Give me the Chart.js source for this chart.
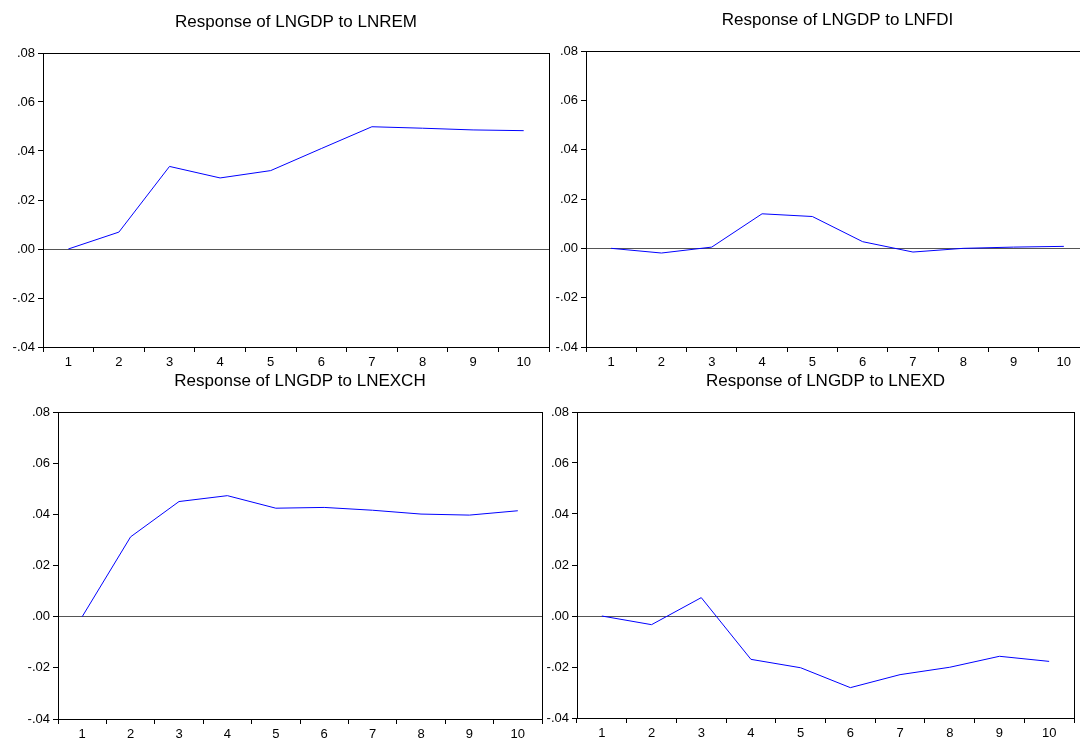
<!DOCTYPE html>
<html>
<head>
<meta charset="utf-8">
<script src="https://cdn.jsdelivr.net/npm/chart.js@4.4.0/dist/chart.umd.min.js"></script>
<style>
  html, body { margin: 0; padding: 0; background: #fff; overflow: hidden; width: 1080px; height: 739px; }
  canvas { position: absolute; }
</style>
</head>
<body>
<canvas id="remChart"></canvas>
<canvas id="fdiChart"></canvas>
<canvas id="exchChart"></canvas>
<canvas id="exdChart"></canvas>
<script>
// impulse response periods
const periods = ['1', '2', '3', '4', '5', '6', '7', '8', '9', '10'];

// responses of LNGDP
const remResponse  = [0.0000, 0.0069, 0.0337, 0.0290, 0.0320, 0.0410, 0.0499, 0.0493, 0.0486, 0.0483];
const fdiResponse  = [0.0000, -0.0019, 0.0005, 0.0140, 0.0129, 0.0027, -0.0015, 0.0000, 0.0005, 0.0008];
const exchResponse = [0.0000, 0.0312, 0.0450, 0.0473, 0.0424, 0.0427, 0.0416, 0.0401, 0.0397, 0.0414];
const exdResponse  = [0.0000, -0.0034, 0.0072, -0.0170, -0.0203, -0.0281, -0.0230, -0.0201, -0.0158, -0.0178];

const yMin = -0.04, yMax = 0.08, yStep = 0.02;

const FONT = '"Liberation Sans", Arial, sans-serif';
const TITLE_SIZE = 17;
const AXIS_W = 43;   // room for y labels
const AXIS_H = 24;   // room for x labels

// frame round the plot area
const framePlugin = {
  id: 'frame',
  afterDraw(chart) {
    const a = chart.chartArea;
    const ctx = chart.ctx;
    ctx.save();
    ctx.strokeStyle = '#000';
    ctx.lineWidth = 1;
    ctx.strokeRect(Math.round(a.left) + 0.5, Math.round(a.top) + 0.5,
                   Math.round(a.right - a.left), Math.round(a.bottom - a.top));
    ctx.restore();
  }
};

function fmt(v) {
  if (Math.abs(v) < 1e-9) return '.00';
  return v.toFixed(2).replace(/^(-?)0\./, '$1.');
}

function makePanel(id, title, values, box) {
  const canvas = document.getElementById(id);
  const left = box.l - AXIS_W;
  const top = box.titleY - 18;
  const w = box.r - left + 4;
  const h = box.b - top + AXIS_H;
  canvas.width = w;
  canvas.height = h;
  canvas.style.left = left + 'px';
  canvas.style.top = top + 'px';
  canvas.style.width = w + 'px';
  canvas.style.height = h + 'px';

  const lh = TITLE_SIZE * 1.2;
  const padTop = 18 - lh / 2;
  const padBottom = box.t - top - padTop - lh;

  return new Chart(canvas.getContext('2d'), {
    type: 'line',
    data: {
      labels: periods,
      datasets: [{
        data: values,
        borderColor: '#0000ff',
        borderWidth: 1,
        pointRadius: 0,
        tension: 0,
        fill: false
      }]
    },
    options: {
      responsive: false,
      animation: false,
      devicePixelRatio: 1,
      layout: { autoPadding: false, padding: { left: 0, top: 0, right: 4, bottom: 0 } },
      plugins: {
        legend: { display: false },
        tooltip: { enabled: false },
        title: {
          display: true,
          text: title,
          fullSize: false,
          color: '#000',
          font: { family: FONT, size: TITLE_SIZE, weight: 'normal' },
          padding: { top: padTop, bottom: padBottom }
        }
      },
      scales: {
        x: {
          offset: true,
          afterFit(scale) { scale.height = AXIS_H; },
          grid: { offset: true, drawOnChartArea: false, tickLength: 5, tickColor: '#000' },
          border: { color: '#000', width: 1 },
          ticks: { color: '#000', padding: 3, maxRotation: 0, autoSkip: false,
                   font: { family: FONT, size: 13 } }
        },
        y: {
          min: yMin,
          max: yMax,
          afterFit(scale) { scale.width = AXIS_W; },
          grid: {
            color: c => (c.tick && Math.abs(c.tick.value) < 1e-9) ? '#555' : 'rgba(0,0,0,0)',
            tickColor: '#000',
            tickLength: 5
          },
          border: { color: '#000', width: 1 },
          ticks: { stepSize: yStep, color: '#000', padding: 3,
                   font: { family: FONT, size: 13 }, callback: v => fmt(v) }
        }
      }
    },
    plugins: [framePlugin]
  });
}

makePanel('remChart',  'Response of LNGDP to LNREM',  remResponse,  { l: 43,  t: 53,  r: 549,  b: 347, titleY: 22 });
makePanel('fdiChart',  'Response of LNGDP to LNFDI',  fdiResponse,  { l: 586, t: 51,  r: 1089, b: 347, titleY: 20 });
makePanel('exchChart', 'Response of LNGDP to LNEXCH', exchResponse, { l: 58,  t: 412, r: 542,  b: 719, titleY: 381 });
makePanel('exdChart',  'Response of LNGDP to LNEXD',  exdResponse,  { l: 577, t: 412, r: 1074, b: 718, titleY: 381 });
</script>
</body>
</html>
